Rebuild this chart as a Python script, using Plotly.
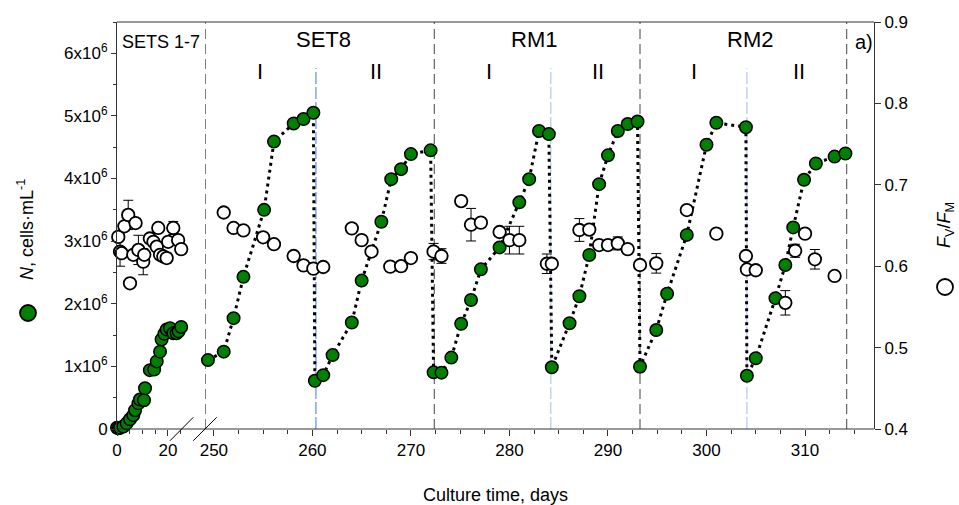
import plotly.graph_objects as go

# ---------------- data ----------------
# SETS 1-7 (days 0-25), cell density N (cells/mL)
seg1_day = [0, 0.6, 1.2, 2.5, 3.8, 5.1, 6.4, 7.1, 8.4, 9.0, 10.6, 11.0, 12.9, 14.6,
            15.6, 16.9, 17.5, 18.6, 19.5, 20.8, 22.1, 23.4, 24.2, 25.2]
seg1_N = [0.02e6, 0.01e6, 0.02e6, 0.04e6, 0.09e6, 0.155e6, 0.22e6, 0.30e6, 0.41e6,
          0.47e6, 0.46e6, 0.65e6, 0.94e6, 0.95e6, 1.08e6, 1.235e6, 1.43e6, 1.52e6,
          1.59e6, 1.61e6, 1.53e6, 1.53e6, 1.56e6, 1.63e6]

# SETS 1-7 Fv/Fm
seg1_F_day = [0.5, 1.2, 1.8, 2.9, 4.4, 5.1, 6.4, 7.3, 8.4, 10.3, 10.7, 12.9, 14.3,
              15.6, 16.2, 16.9, 18.2, 19.5, 20.1, 22.1, 24.0, 25.2]
seg1_F = [0.636, 0.618, 0.616, 0.649, 0.663, 0.579, 0.614, 0.653, 0.620, 0.6055,
          0.614, 0.634, 0.630, 0.624, 0.647, 0.614, 0.612, 0.610, 0.630, 0.647,
          0.632, 0.621]
seg1_F_err = [0, 0.018, 0, 0, 0.018, 0, 0, 0, 0.018, 0.016, 0, 0, 0, 0, 0, 0,
              0, 0.006, 0, 0.008, 0, 0]

# SET8, RM1, RM2 (days 249-317), cell density N (cells/mL)
day_N = [249.4, 251.0, 252.0, 253.0, 255.1, 256.1, 258.1, 259.1, 260.1,
         260.25, 261.1, 262.05, 264.0, 265.0, 267.0, 268.0, 269.0, 270.0, 272.0,
         272.3, 273.1, 274.1, 275.1, 276.1, 277.1, 279.0, 281.0, 282.0, 283.0, 284.0,
         284.3, 286.1, 287.1, 288.1, 289.1, 290.0, 291.0, 292.0, 293.0,
         293.25, 294.9, 296.0, 298.0, 300.0, 301.0, 304.0,
         304.1, 305.0, 307.0, 308.0, 308.8, 309.9, 311.1, 313.0, 314.1]
N = [1.10e6, 1.235e6, 1.77e6, 2.43e6, 3.50e6, 4.59e6, 4.88e6, 4.95e6, 5.05e6,
     0.77e6, 0.86e6, 1.18e6, 1.70e6, 2.37e6, 3.31e6, 3.99e6, 4.15e6, 4.39e6, 4.45e6,
     0.905e6, 0.90e6, 1.14e6, 1.68e6, 2.06e6, 2.55e6, 2.90e6, 3.62e6, 3.99e6, 4.76e6, 4.71e6,
     0.985e6, 1.69e6, 2.12e6, 2.78e6, 3.91e6, 4.37e6, 4.76e6, 4.87e6, 4.91e6,
     0.995e6, 1.58e6, 2.16e6, 3.10e6, 4.54e6, 4.89e6, 4.82e6,
     0.85e6, 1.13e6, 2.09e6, 2.62e6, 3.22e6, 3.98e6, 4.24e6, 4.35e6, 4.40e6]

# SET8, RM1, RM2 Fv/Fm
day_F = [251.0, 252.0, 253.0, 255.0, 256.1, 258.1, 259.1, 260.1, 261.1,
         264.0, 265.0, 266.0, 267.9, 269.0, 270.0, 272.3, 273.1,
         275.1, 276.1, 277.1, 279.0, 280.0, 281.0, 283.8, 284.3,
         287.1, 288.1, 289.1, 290.0, 291.0, 292.0, 293.25,
         294.9, 298.0, 301.0, 304.0, 304.1, 305.0,
         308.0, 309.0, 310.0, 311.0, 313.0]
F = [0.666, 0.647, 0.644, 0.6355, 0.627, 0.6125, 0.601, 0.597, 0.599,
     0.6465, 0.632, 0.618, 0.5995, 0.600, 0.610, 0.618, 0.6125,
     0.680, 0.651, 0.6535, 0.642, 0.632, 0.632, 0.603, 0.603,
     0.6445, 0.645, 0.626, 0.626, 0.628, 0.621, 0.6015,
     0.6035, 0.669, 0.640, 0.6125, 0.596, 0.595,
     0.555, 0.619, 0.640, 0.6085, 0.588]
F_err = [0, 0, 0.004, 0, 0, 0, 0, 0, 0,
         0, 0, 0.005, 0, 0.006, 0, 0.010, 0.009,
         0, 0.020, 0, 0, 0.017, 0.017, 0.012, 0,
         0.014, 0, 0, 0, 0.008, 0, 0,
         0.012, 0, 0, 0, 0, 0,
         0.015, 0.008, 0, 0.012, 0]

N_ticks = [0, 1e6, 2e6, 3e6, 4e6, 5e6, 6e6]
N_ticktext = ["0"] + ["%dx10<sup>6</sup>" % k for k in range(1, 7)]
F_ticks = [0.4, 0.5, 0.6, 0.7, 0.8, 0.9]
F_ticktext = ["0.4", "0.5", "0.6", "0.7", "0.8", "0.9"]

black_lines = [249.1, 272.37, 293.25, 314.23]
blue_lines = [260.36, 284.2, 304.1]
period_labels = [("SET8", 323), ("RM1", 533.5), ("RM2", 750)]
phase_labels = [("I", 260), ("II", 376), ("I", 489), ("II", 598), ("I", 694), ("II", 799)]

# ---------------- layout helpers ----------------
W, H = 959, 505
L, R, T, B = 117, 874, 22, 429


def px_x(px):
    return (px - L) / (R - L)


def px_y(py):
    return (B - py) / (B - T)


FONT = "Arial, Liberation Sans, sans-serif"
GREEN = "#008000"

fig = go.Figure()

# dotted connecting line
fig.add_trace(go.Scatter(x=day_N, y=N, xaxis="x2", yaxis="y", mode="lines",
                         line=dict(color="black", width=3, dash="3px,4px"),
                         hoverinfo="skip", showlegend=False))

green_marker = dict(size=12.5, color=GREEN, line=dict(color="black", width=1.5))
open_marker = dict(size=12.5, color="white", line=dict(color="black", width=1.8))
err_style = dict(type="data", thickness=1, width=5, color="black")

fig.add_trace(go.Scatter(x=seg1_day, y=seg1_N, xaxis="x", yaxis="y", mode="markers",
                         marker=green_marker, cliponaxis=False, showlegend=False))
fig.add_trace(go.Scatter(x=day_N, y=N, xaxis="x2", yaxis="y", mode="markers",
                         marker=green_marker, cliponaxis=False, showlegend=False))
fig.add_trace(go.Scatter(x=seg1_F_day, y=seg1_F, xaxis="x", yaxis="y2", mode="markers",
                         marker=open_marker, error_y=dict(array=seg1_F_err, **err_style),
                         cliponaxis=False, showlegend=False))
fig.add_trace(go.Scatter(x=day_F, y=F, xaxis="x2", yaxis="y2", mode="markers",
                         marker=open_marker, error_y=dict(array=F_err, **err_style),
                         cliponaxis=False, showlegend=False))

shapes = []
for i, xv in enumerate(black_lines):
    shapes.append(dict(type="line", xref="x2", yref="paper", x0=xv, x1=xv, y0=0, y1=1,
                       line=dict(color="black" if i == 0 else "#444", width=1, dash="10px,5px"),
                       layer="below"))
for i, xv in enumerate(blue_lines):
    shapes.append(dict(type="line", xref="x2", yref="paper", x0=xv, x1=xv, y0=0, y1=px_y(68),
                       line=dict(color="#3a7ae8" if i == 0 else "#a3bcef", width=1, dash="12px,3px"),
                       layer="below"))
# frame top / bottom
shapes.append(dict(type="line", xref="paper", yref="paper", x0=0, x1=1, y0=1, y1=1,
                   line=dict(color="#333", width=1)))
shapes.append(dict(type="line", xref="paper", yref="paper", x0=0, x1=1, y0=0, y1=0,
                   line=dict(color="#333", width=1)))
# axis-break slashes
for a, b in [(170, 193.3), (193.3, 216.7)]:
    shapes.append(dict(type="line", xref="paper", yref="paper",
                       x0=px_x(a), x1=px_x(b), y0=px_y(440.7), y1=px_y(417.3),
                       line=dict(color="black", width=1)))
# legend-style circles by axis titles
for cx, cy, col in [(28, 313, GREEN), (945, 287, "white")]:
    shapes.append(dict(type="circle", xref="paper", yref="paper",
                       xsizemode="pixel", ysizemode="pixel",
                       xanchor=px_x(cx), yanchor=px_y(cy), x0=-8, x1=8, y0=-8, y1=8,
                       fillcolor=col, line=dict(color="black", width=1.8)))

ann = []
ann.append(dict(text="SETS 1-7", x=px_x(161), y=px_y(42), font=dict(size=18)))
for txt, xp in period_labels:
    ann.append(dict(text=txt, x=px_x(xp), y=px_y(39.5), font=dict(size=22)))
for txt, xp in phase_labels:
    ann.append(dict(text=txt, x=px_x(xp), y=px_y(71), font=dict(size=22)))
ann.append(dict(text="a)", x=px_x(863.5), y=px_y(42), font=dict(size=20)))
ann.append(dict(text="Culture time, days", x=0.5, y=px_y(495), font=dict(size=18)))
ann.append(dict(text="<i>N</i>, cells·mL<sup>-1</sup>", x=px_x(25), y=px_y(230),
                textangle=-90, font=dict(size=18)))
ann.append(dict(text="<i>F</i><sub>V</sub>/<i>F</i><sub>M</sub>", x=px_x(946), y=px_y(225),
                textangle=-90, font=dict(size=18)))
for a in ann:
    a.update(xref="paper", yref="paper", showarrow=False, xanchor="center", yanchor="middle")
    a["font"].update(family=FONT, color="black")

axis_common = dict(showgrid=False, zeroline=False, ticks="outside", tickcolor="#333",
                   automargin=False,
                   tickfont=dict(family=FONT, size=17, color="black"))

fig.update_layout(
    width=W, height=H,
    margin=dict(l=L, r=W - R, t=T, b=H - B, pad=0, autoexpand=False),
    paper_bgcolor="white", plot_bgcolor="white",
    showlegend=False,
    xaxis=dict(domain=[0, px_x(181.7)], range=[0, 25.4], tickvals=[0, 20],
               ticklen=6, anchor="y", showline=False,
               minor=dict(tickvals=[5, 10, 15, 25], ticklen=4, ticks="outside", tickcolor="#333"),
               **axis_common),
    xaxis2=dict(domain=[px_x(205), 1], range=[249.1, 317], tickvals=[250, 260, 270, 280, 290, 300, 310],
                ticklen=6, anchor="y", showline=False,
                minor=dict(dtick=2.5, tick0=250, ticklen=4, ticks="outside", tickcolor="#333"),
                **axis_common),
    yaxis=dict(range=[0, 6.5e6], tickvals=N_ticks, ticktext=N_ticktext, ticklen=5,
               anchor="x", showline=True, linecolor="#333", linewidth=1,
               minor=dict(tickvals=[0.5e6, 1.5e6, 2.5e6, 3.5e6, 4.5e6, 5.5e6, 6.5e6],
                          ticklen=3, ticks="outside", tickcolor="#333"),
               **axis_common),
    yaxis2=dict(range=[0.4, 0.9], tickvals=F_ticks, ticktext=F_ticktext, ticklen=6,
                overlaying="y", side="right", anchor="x2", showline=True,
                linecolor="#333", linewidth=1, **axis_common),
    shapes=shapes,
    annotations=ann,
)

fig.write_html("out.html", config={"displayModeBar": False},
               post_script="document.body.style.margin='0';document.body.style.overflow='hidden';")
